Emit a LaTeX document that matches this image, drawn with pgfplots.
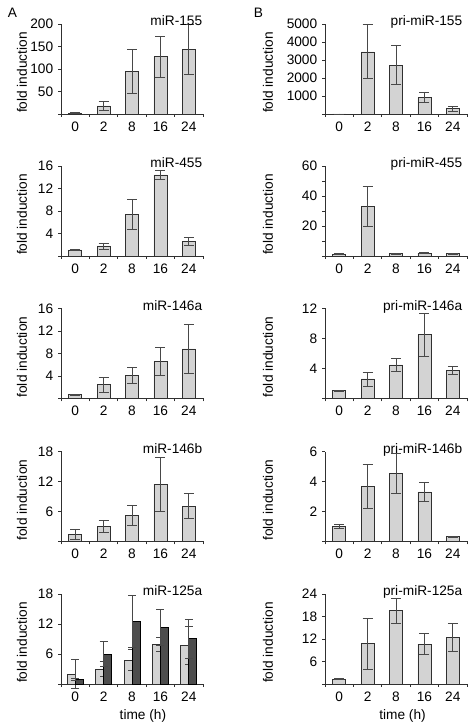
\documentclass[border=0pt]{standalone}
\usepackage{fontspec}
\setmainfont{Liberation Sans}
\usepackage{pgfplots}
\pgfplotsset{compat=1.18}
\definecolor{lbar}{HTML}{D3D3D3}
\definecolor{dbar}{HTML}{4D4D4D}
\definecolor{errc}{HTML}{484848}
\definecolor{axc}{HTML}{303030}
\pgfplotsset{
  panel/.style={
    width=142pt, height=90pt, scale only axis,
    axis lines=left,
    axis line style={-, draw=axc, line width=0.8pt},
    every outer x axis line/.append style={-},
    every outer y axis line/.append style={-},
    xmin=-0.5, xmax=4.5, ymin=0,
    xtick={0,1,2,3,4}, xticklabels={0,2,8,16,24},
    major x tick style={draw=none},
    minor xtick={-0.5,0.5,1.5,2.5,3.5,4.5},
    tick align=outside, major tick length=3pt, minor tick length=3pt,
    tick style={draw=axc, line width=0.8pt},
    /pgf/number format/assume math mode=true,
    clip=false,
    ylabel={fold induction},
  },
  leftp/.style={panel,
    every axis y label/.style={at={(axis description cs:-0.275,0.46)}, rotate=90, anchor=center}},
  rightp/.style={panel,
    every axis y label/.style={at={(axis description cs:-0.401,0.46)}, rotate=90, anchor=center}},
  lb/.style={ybar, bar width=13pt, fill=lbar, draw=axc, line width=0.7pt,
    error bars/.cd, y dir=both, y explicit,
    error bar style={draw=errc, line width=0.8pt},
    error mark options={rotate=90, mark size=5pt, draw=errc, line width=0.8pt}},
  lb2/.style={ybar, bar width=8pt, bar shift=-4pt, fill=lbar, draw=axc, line width=0.7pt,
    error bars/.cd, y dir=both, y explicit,
    error bar style={draw=errc, line width=0.8pt},
    error mark options={rotate=90, mark size=4pt, draw=errc, line width=0.8pt}},
  db2/.style={ybar, bar width=8pt, bar shift=4pt, fill=dbar, draw=black, line width=0.7pt,
    error bars/.cd, y dir=both, y explicit,
    error bar style={draw=errc, line width=0.8pt},
    error mark options={rotate=90, mark size=4pt, draw=errc, line width=0.8pt}},
}
\newcommand{\ttl}[2]{\node[anchor=base east, xshift=#2, yshift=-2pt] at (rel axis cs:1,1) {#1};}
\begin{document}
\fontsize{13.7}{16}\selectfont
\begin{tikzpicture}
% ---------------- Column A ----------------
\begin{axis}[leftp, at={(61pt,611pt)}, anchor=south west,
  ymax=200, ytick={0,50,100,150,200}, yticklabels={,50,100,150,200}]
\addplot[lb] table[x=x,y=y,y error=e] {
x y e
0 2 1
1 18 9
2 95 49
3 127 45
4 144 55
};
\ttl{miR-155}{4pt}
\end{axis}
\begin{axis}[leftp, at={(61pt,469pt)}, anchor=south west,
  ymax=16, ytick={0,4,8,12,16}, yticklabels={,4,8,12,16}]
\addplot[lb] table[x=x,y=y,y error=e] {
x y e
0 1.07 0.1
1 1.78 0.53
2 7.4 2.6
3 14.4 0.77
4 2.6 0.7
};
\ttl{miR-455}{4pt}
\end{axis}
\begin{axis}[leftp, at={(61pt,326.5pt)}, anchor=south west,
  ymax=16, ytick={0,4,8,12,16}, yticklabels={,4,8,12,16}]
\addplot[lb] table[x=x,y=y,y error=e] {
x y e
0 0.65 0.1
1 2.44 1.28
2 4.16 1.4
3 6.54 2.47
4 8.8 4.4
};
\ttl{miR-146a}{4pt}
\end{axis}
\begin{axis}[leftp, at={(61pt,183.5pt)}, anchor=south west,
  ymax=18, ytick={0,6,12,18}, yticklabels={,6,12,18}]
\addplot[lb] table[x=x,y=y,y error=e] {
x y e
0 1.47 0.97
1 3.0 1.27
2 5.27 1.97
3 11.47 5.4
4 7.07 2.47
};
\ttl{miR-146b}{4pt}
\end{axis}
\begin{axis}[leftp, at={(61pt,41pt)}, anchor=south west,
  ymax=18, ytick={0,6,12,18}, yticklabels={,6,12,18},
  xlabel={time (h)},
  every axis x label/.style={at={(axis description cs:0.577,0)}, anchor=base, yshift=-35pt}]
\addplot[lb2] table[x=x,y=y,y error=e] {
x y e
0 2.0 2.9
1 3.0 1.5
2 4.77 2.05
3 7.86 1.38
4 7.72 3.7
};
\addplot[db2] table[x=x,y=y,y error=e] {
x y e
0 0.94 0.15
1 5.98 2.5
2 12.5 5.2
3 11.28 3.6
4 9.07 3.9
};
\ttl{miR-125a}{4pt}
\end{axis}
% ---------------- Column B ----------------
\begin{axis}[rightp, at={(325pt,611pt)}, anchor=south west,
  ymax=5000, ytick={0,1000,2000,3000,4000,5000}, yticklabels={,1000,2000,3000,4000,5000}]
\addplot[lb] table[x=x,y=y,y error=e] {
x y e
0 1 0.5
1 3450 1500
2 2720 1100
3 900 280
4 290 130
};
\ttl{pri-miR-155}{0pt}
\end{axis}
\begin{axis}[rightp, at={(325pt,469pt)}, anchor=south west,
  ymax=60, ytick={0,20,40,60}, yticklabels={,20,40,60}, minor ytick={10,30,50}]
\addplot[lb] table[x=x,y=y,y error=e] {
x y e
0 1.3 0.3
1 33 13.3
2 1.6 0.3
3 1.9 0.3
4 1.5 0.3
};
\ttl{pri-miR-455}{0pt}
\end{axis}
\begin{axis}[rightp, at={(325pt,326.5pt)}, anchor=south west,
  ymax=12, ytick={0,4,8,12}, yticklabels={,4,8,12}]
\addplot[lb] table[x=x,y=y,y error=e] {
x y e
0 1.03 0.05
1 2.6 0.94
2 4.48 0.85
3 8.5 2.87
4 3.72 0.5
};
\ttl{pri-miR-146a}{0pt}
\end{axis}
\begin{axis}[rightp, at={(325pt,183.5pt)}, anchor=south west,
  ymax=6, ytick={0,2,4,6}, yticklabels={,2,4,6}]
\addplot[lb] table[x=x,y=y,y error=e] {
x y e
0 1.0 0.11
1 3.68 1.47
2 4.55 1.32
3 3.3 0.63
4 0.31 0.03
};
\ttl{pri-miR-146b}{0pt}
\end{axis}
\begin{axis}[rightp, at={(325pt,41pt)}, anchor=south west,
  ymax=24, ytick={0,6,12,18,24}, yticklabels={,6,12,18,24},
  xlabel={time (h)},
  every axis x label/.style={at={(axis description cs:0.546,0)}, anchor=base, yshift=-35pt}]
\addplot[lb] table[x=x,y=y,y error=e] {
x y e
0 1.32 0.1
1 10.77 6.75
2 19.6 3.35
3 10.6 2.78
4 12.5 3.75
};
\ttl{pri-miR-125a}{0pt}
\end{axis}
\node[anchor=base west] at (3pt,707pt) {A};
\node[anchor=base west] at (249pt,707pt) {B};
\pgfresetboundingbox
\useasboundingbox (0,0) rectangle (471pt,725pt);
\end{tikzpicture}
\end{document}
